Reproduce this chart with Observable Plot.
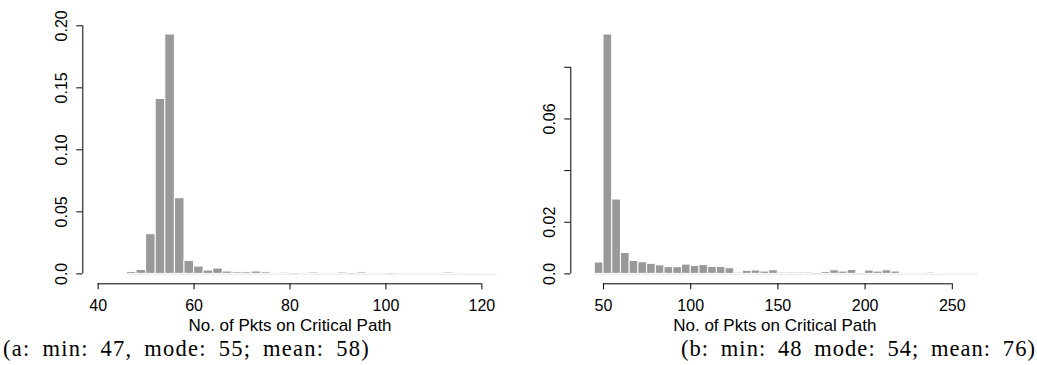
<!DOCTYPE html>
<html><head><meta charset="utf-8">
<script src="https://cdn.jsdelivr.net/npm/d3@7"></script>
<script src="https://cdn.jsdelivr.net/npm/@observablehq/plot@0.6"></script>
<style>
body{margin:0;background:#fff;}
#row{display:flex;width:1037px;height:365px;overflow:hidden}
.panel{flex:none}
.cap{height:30px;line-height:27px;font-family:"Liberation Serif",serif;font-size:22.5px;white-space:nowrap;color:#000;word-spacing:5px}
</style></head><body>
<div id="row"><div class="panel" id="pa" style="width:518px"></div><div class="panel" id="pb" style="width:519px"></div></div>
<script>
// ---- data ----
const edgesA = [46,48,50,52,54,56,58,60,62,64,66,68,70,72,74,76,78,80,82,84,86,88,90,92,94,96,98,100,102,104,106,108,110,112,114,116,118,120,122,124];
const densA = [0.0016,0.0032,0.032,0.141,0.193,0.061,0.0105,0.0059,0.0027,0.0043,0.0019,0.0013,0.0013,0.0019,0.0013,0.0005,0.001,0,0.0005,0.0011,0.0004,0.0005,0.0011,0,0.0012,0.0004,0.0005,0,0.0004,0.0005,0.0005,0.0004,0.0004,0.0011,0.0005,0.0003,0.0003,0.0003,0.0002];
const xTicksA = [40,60,80,100,120];
const yTicksA = [0,0.05,0.10,0.15,0.20];
const yLabelsA = ["0.0","0.05","0.10","0.15","0.20"];

const edgesB = [45,50,55,60,65,70,75,80,85,90,95,100,105,110,115,120,125,130,135,140,145,150,155,160,165,170,175,180,185,190,195,200,205,210,215,220,225,230,235,240,245,250,255,260,265];
const densB = [0.0044,0.0927,0.0288,0.0081,0.005,0.0045,0.0039,0.0033,0.0026,0.0026,0.0036,0.0031,0.0034,0.0027,0.0027,0.0022,0.0005,0.0012,0.0013,0.0009,0.0014,0.0005,0.0005,0.0005,0.0005,0,0.0007,0.0014,0.0009,0.0015,0,0.0013,0.0009,0.0014,0.0009,0.0002,0.0002,0.0002,0.0005,0.0001,0.0002,0.0002,0.0002,0.0002];
const xTicksB = [50,100,150,200,250];
const yTicksB = [0,0.02,0.04,0.06,0.08];
const yLabelsB = ["0.0","0.02","","0.06",""];

const xLabel = "No. of Pkts on Critical Path";
const captionA = "(a: min: 47, mode: 55; mean: 58)";
const captionB = "(b: min: 48 mode: 54; mean: 76)";

// ---- drawing ----
function panel({edges, dens, xTicks, yTicks, yLabels, xDomain, yDomain, width, marginLeft, marginRight}) {
  const bins = dens.map((d, i) => ({x1: edges[i], x2: edges[i + 1], d})).filter(b => b.d > 0);
  return Plot.plot({
    width, height: 335,
    marginLeft, marginRight, marginTop: 15.4, marginBottom: 51.7,
    x: {domain: xDomain},
    y: {domain: yDomain},
    style: {fontFamily: "'Liberation Sans', Arial, sans-serif", fontSize: "16px", color: "#000", background: "#fff", overflow: "visible"},
    marks: [
      Plot.ruleY([0], {x1: edges[0], x2: edges[edges.length - 1], stroke: "#cfcfcf", strokeWidth: 1, clip: true}),
      Plot.rect(bins, {x1: "x1", x2: "x2", y1: 0, y2: "d", fill: "#999999", stroke: "#fff", strokeWidth: 1, clip: true}),
      Plot.ruleY([yDomain[0]], {x1: xTicks[0], x2: xTicks[xTicks.length - 1], stroke: "#000"}),
      Plot.axisX(xTicks, {tickSize: 6, tickPadding: 10, fontSize: 16, label: null, tickFormat: d => String(d)}),
      Plot.ruleX([xDomain[0]], {y1: yTicks[0], y2: yTicks[yTicks.length - 1], stroke: "#000"}),
      Plot.axisY(yTicks, {tickSize: 6, tickFormat: () => "", label: null}),
      Plot.text(yTicks, {y: d => d, text: (d, i) => yLabels[i], frameAnchor: "left", rotate: -90, dx: -20.5, fontSize: 16, textAnchor: "middle", lineAnchor: "middle", fill: "#000"}),
      Plot.text([xLabel], {frameAnchor: "bottom", dy: 35, lineAnchor: "top", fontSize: 17, fill: "#000"})
    ]
  });
}

const pa = document.getElementById("pa");
const pb = document.getElementById("pb");
pa.append(panel({edges: edgesA, dens: densA, xTicks: xTicksA, yTicks: yTicksA, yLabels: yLabelsA,
  xDomain: [36.8, 123.2], yDomain: [-0.008, 0.208], width: 518, marginLeft: 82.3, marginRight: 21.3}));
pb.append(panel({edges: edgesB, dens: densB, xTicks: xTicksB, yTicks: yTicksB, yLabels: yLabelsB,
  xDomain: [31.25, 265.2], yDomain: [-0.00384, 0.09991], width: 519, marginLeft: 52.3, marginRight: 58.7}));

function caption(parent, text, align, target) {
  const div = document.createElement("div");
  div.className = "cap";
  div.style.textAlign = align;
  if (align === "left") div.style.paddingLeft = "3px"; else div.style.paddingRight = "1px";
  const span = document.createElement("span");
  span.textContent = text;
  div.append(span);
  parent.append(div);
  const w = span.getBoundingClientRect().width;
  span.style.letterSpacing = ((target - w) / text.length) + "px";
}
caption(pa, captionA, "left", 367);
caption(pb, captionB, "right", 355);
</script>
</body></html>
